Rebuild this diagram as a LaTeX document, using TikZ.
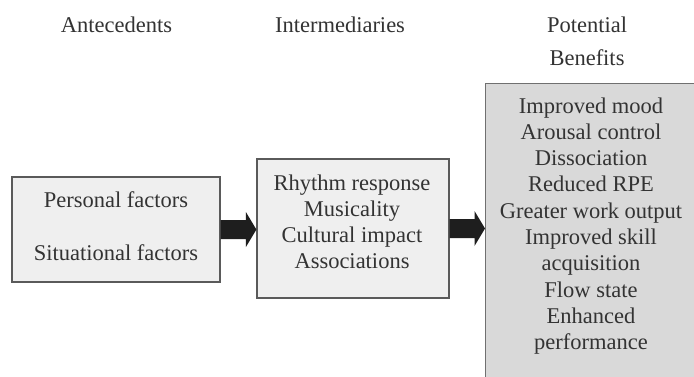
\documentclass[tikz,border=0pt]{standalone}
\usepackage{fontspec}
\setmainfont{Liberation Serif}
\usetikzlibrary{calc}
\definecolor{txt}{HTML}{333333}
\definecolor{lightbox}{HTML}{EFEFEF}
\definecolor{darkbox}{HTML}{D9D9D9}
\definecolor{edge}{HTML}{5A5A5A}
\definecolor{edgetwo}{HTML}{707070}
\definecolor{arrowc}{HTML}{1E1E1E}
\begin{document}
\begin{tikzpicture}[x=1pt,y=-1pt,
  lbl/.style={anchor=base,text=txt,font=\fontsize{22.5}{27}\selectfont,inner sep=0pt},
  box/.style={draw=edge,line width=1.2pt,inner sep=0pt},
  blockarrow/.style={fill=arrowc}]
\useasboundingbox (0,0) rectangle (694,376);
\clip (0,0) rectangle (694,376);
\fill[white] (0,0) rectangle (694,376);
% boxes
\node[box,fill=lightbox,minimum width=208pt,minimum height=105pt] (b1) at (116,229.5) {};
\node[box,fill=lightbox,minimum width=192pt,minimum height=139pt] (b2) at (353,228.5) {};
\node[box,fill=darkbox,draw=edgetwo,minimum width=230pt,minimum height=310pt,anchor=north west] (b3) at (485,83) {};
% headers
\node[lbl] (h1) at (116.5,32) {Antecedents};
\node[lbl] (h2) at (340,32) {Intermediaries};
\node[lbl] (h3) at (587,32) {Potential};
\node[lbl] (h4) at (587,65) {Benefits};
% box 1 text
\node[lbl] (p1) at (116,207) {Personal factors};
\node[lbl] (p2) at (116,260) {Situational factors};
% box 2 text
\foreach \t [count=\i from 0] in {Rhythm response,Musicality,Cultural impact,Associations}
  \node[lbl] (m\i) at (352,190+26*\i) {\t};
% box 3 text
\foreach \t [count=\i from 0] in {Improved mood,Arousal control,Dissociation,Reduced RPE,Greater work output,Improved skill,acquisition,Flow state,Enhanced,performance}
  \node[lbl] (r\i) at (591,113+26.3*\i) {\t};
% arrows
\coordinate (a1s) at (b1.east);
\coordinate (a1t) at (b1.east -| b2.west);
\fill[blockarrow] ($(a1s)+(0,-9.5)$) -- ($(a1t)+(-10.5,-9.5)$) -- ($(a1t)+(-10.5,-17.5)$) -- (a1t) -- ($(a1t)+(-10.5,17.5)$) -- ($(a1t)+(-10.5,9.5)$) -- ($(a1s)+(0,9.5)$) -- cycle;
\coordinate (a2s) at (b2.east);
\coordinate (a2t) at (b2.east -| b3.west);
\fill[blockarrow] ($(a2s)+(0,-9.5)$) -- ($(a2t)+(-10.5,-9.5)$) -- ($(a2t)+(-10.5,-17.5)$) -- (a2t) -- ($(a2t)+(-10.5,17.5)$) -- ($(a2t)+(-10.5,9.5)$) -- ($(a2s)+(0,9.5)$) -- cycle;
\end{tikzpicture}
\end{document}
